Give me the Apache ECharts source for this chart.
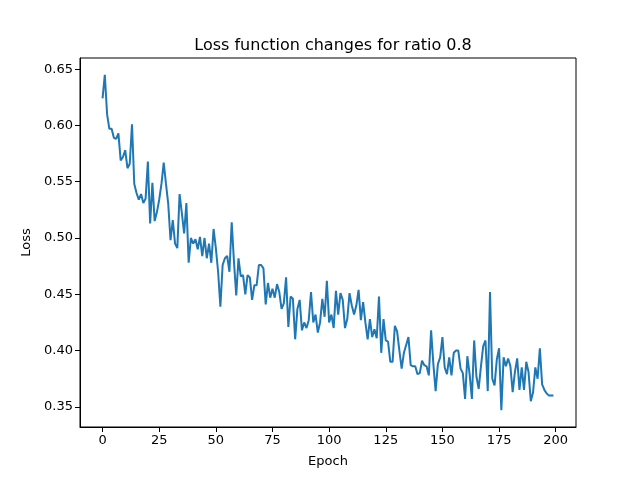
<!DOCTYPE html>
<html>
<head>
<meta charset="utf-8">
<script src="https://cdn.jsdelivr.net/npm/echarts@6/dist/echarts.min.js"></script>
<style>html,body{margin:0;padding:0;background:#fff}#c{width:640px;height:480px}</style>
</head>
<body>
<div id="c"></div>
<script>
var titleText = "Loss function changes for ratio 0.8";
var xName = "Epoch";
var yName = "Loss";
var xTicks = [0, 25, 50, 75, 100, 125, 150, 175, 200];
var yTicks = [0.35, 0.40, 0.45, 0.50, 0.55, 0.60, 0.65];
var loss = [
0.624,0.645,0.610,0.597,0.597,0.589,0.588,0.593,0.569,0.572,
0.578,0.562,0.566,0.601,0.548,0.540,0.534,0.539,0.531,0.535,
0.568,0.513,0.549,0.515,0.523,0.534,0.548,0.567,0.548,0.530,
0.498,0.516,0.495,0.491,0.539,0.522,0.504,0.531,0.478,0.500,
0.495,0.499,0.490,0.501,0.484,0.500,0.482,0.495,0.478,0.508,
0.491,0.470,0.439,0.476,0.482,0.484,0.470,0.514,0.479,0.449,
0.482,0.466,0.467,0.450,0.467,0.465,0.445,0.458,0.458,0.476,
0.476,0.473,0.441,0.460,0.447,0.455,0.447,0.459,0.452,0.437,
0.442,0.465,0.421,0.448,0.446,0.410,0.437,0.445,0.418,0.425,
0.420,0.427,0.452,0.425,0.432,0.416,0.425,0.446,0.430,0.462,
0.425,0.432,0.420,0.453,0.432,0.451,0.445,0.420,0.428,0.451,
0.440,0.432,0.440,0.454,0.427,0.443,0.425,0.410,0.428,0.412,
0.419,0.411,0.448,0.398,0.428,0.409,0.408,0.390,0.390,0.422,
0.417,0.400,0.384,0.398,0.405,0.412,0.387,0.386,0.386,0.379,
0.380,0.391,0.387,0.386,0.378,0.418,0.388,0.364,0.388,0.394,
0.412,0.385,0.379,0.394,0.378,0.398,0.400,0.400,0.384,0.380,
0.357,0.395,0.379,0.357,0.409,0.377,0.366,0.386,0.404,0.409,
0.364,0.452,0.375,0.369,0.392,0.402,0.347,0.394,0.386,0.393,
0.386,0.363,0.381,0.393,0.365,0.385,0.365,0.390,0.381,0.355,
0.363,0.385,0.375,0.402,0.370,0.365,0.362,0.360,0.360,0.360
];
var pts = loss.map(function(v, i){ return [i, v]; });
var n = loss.length;
var xMin = 0 - 0.05 * (n - 1), xMax = (n - 1) * 1.05;
var lo = Math.min.apply(null, loss), hi = Math.max.apply(null, loss);
var yMin = lo - 0.05 * (hi - lo), yMax = hi + 0.05 * (hi - lo);
var font = "DejaVu Sans";
var chart = echarts.init(document.getElementById('c'), null, {renderer: 'canvas'});
chart.setOption({
  animation: false,
  backgroundColor: '#fff',
  title: {
    text: titleText, left: 328, top: 33, textAlign: 'center',
    textStyle: {fontFamily: font, fontSize: 16, fontWeight: 'normal', color: '#000'}
  },
  grid: {left: 80, right: 64, top: 58, bottom: 53, show: true, borderColor: '#000', borderWidth: 1, backgroundColor: 'transparent'},
  xAxis: {
    type: 'value', min: xMin, max: xMax,
    name: xName, nameLocation: 'middle', nameGap: 28,
    nameTextStyle: {fontFamily: font, fontSize: 13, color: '#000'},
    axisLine: {show: true, onZero: false, lineStyle: {color: '#000', width: 1}},
    axisTick: {show: true, length: 5, lineStyle: {color: '#000'}, customValues: xTicks},
    axisLabel: {fontFamily: font, fontSize: 13, color: '#000', margin: 7, customValues: xTicks, showMinLabel: true, showMaxLabel: true},
    splitLine: {show: false}
  },
  yAxis: {
    type: 'value', min: yMin, max: yMax,
    name: yName, nameLocation: 'middle', nameGap: 47, nameRotate: 90,
    nameTextStyle: {fontFamily: font, fontSize: 13, color: '#000'},
    axisLine: {show: true, onZero: false, lineStyle: {color: '#000', width: 1}},
    axisTick: {show: true, length: 5, lineStyle: {color: '#000'}, customValues: yTicks},
    axisLabel: {fontFamily: font, fontSize: 13, color: '#000', margin: 7, customValues: yTicks,
      formatter: function(v){ return v.toFixed(2); }},
    splitLine: {show: false}
  },
  series: [{
    type: 'line', data: pts, showSymbol: false, symbol: 'none',
    lineStyle: {color: '#1f77b4', width: 2}, itemStyle: {color: '#1f77b4'}
  }]
});
</script>
</body>
</html>
